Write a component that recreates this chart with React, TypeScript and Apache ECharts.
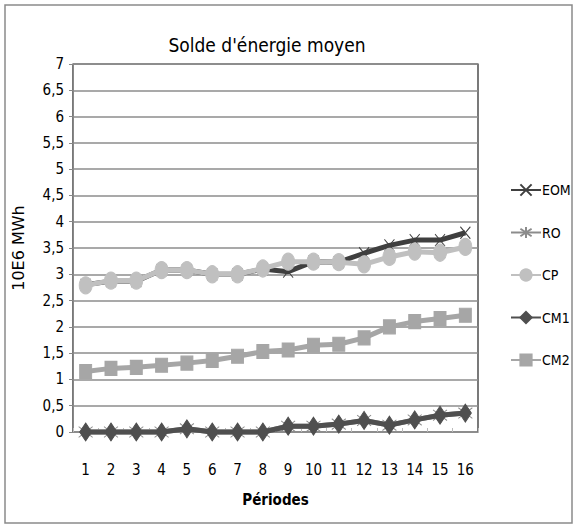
import React, { useEffect, useRef } from "react";
import * as echarts from "echarts";

const categories = ["1","2","3","4","5","6","7","8","9","10","11","12","13","14","15","16"];
const eom = [2.8, 2.87, 2.87, 3.08, 3.08, 3.0, 3.0, 3.1, 3.05, 3.24, 3.23, 3.4, 3.55, 3.65, 3.65, 3.79];
const ro = [0, 0, 0, 0, 0.06, 0, 0, 0, 0.11, 0.11, 0.15, 0.22, 0.13, 0.23, 0.32, 0.36];
const cp = [2.79, 2.88, 2.88, 3.08, 3.08, 3.0, 3.0, 3.11, 3.24, 3.24, 3.23, 3.19, 3.33, 3.43, 3.41, 3.52];
const cm1 = [0, 0, 0, 0, 0.06, 0, 0, 0, 0.11, 0.11, 0.15, 0.22, 0.13, 0.23, 0.32, 0.36];
const cm2 = [1.15, 1.21, 1.23, 1.27, 1.31, 1.36, 1.44, 1.53, 1.56, 1.65, 1.67, 1.79, 2.0, 2.1, 2.16, 2.22];

const FONT = "'Liberation Sans Narrow', 'DejaVu Sans Condensed', Roboto, sans-serif";
const X_PATH = "path://M0,0L10,12M10,0L0,12";
const STAR_PATH = "path://M5,0L5,12M0,2L10,10M10,2L0,10";

export default function App() {
  const ref = useRef<HTMLDivElement>(null);
  useEffect(() => {
    if (!ref.current) return;
    const chart = echarts.init(ref.current, null, { renderer: "svg" });
    const mk = (name: string, data: number[], color: string, symbol: string, size: any, extra: any = {}) => ({
      name,
      type: "line",
      data,
      clip: false,
      symbol,
      symbolSize: size,
      lineStyle: { color, width: 5 },
      itemStyle: { color, borderColor: color, borderWidth: 1 },
      ...extra,
    });
    chart.setOption({
      animation: false,
      backgroundColor: "#fff",
      title: {
        text: "Solde d'énergie moyen",
        left: 262,
        textAlign: "center",
        top: 30,
        textStyle: { fontFamily: FONT, fontSize: 19, fontWeight: "normal", color: "#000" },
      },
      graphic: [
        {
          type: "rect",
          shape: { x: 5, y: 5, width: 567, height: 518 },
          style: { fill: "none", stroke: "#8a8a8a", lineWidth: 1.5 },
          z: 100,
        },
      ],
      legend: {
        orient: "vertical",
        left: 505,
        top: 178,
        itemWidth: 30,
        itemHeight: 14,
        itemGap: 28.5,
        textStyle: { fontFamily: FONT, fontSize: 14, color: "#000", padding: [0, 0, 0, -4] },
        data: ["EOM", "RO", "CP", "CM1", "CM2"],
      },
      grid: {
        left: 73,
        right: 101,
        top: 64,
        bottom: 97,
        show: true,
        borderColor: "#222",
        borderWidth: 1.2,
      },
      xAxis: {
        type: "category",
        data: categories,
        boundaryGap: true,
        name: "Périodes",
        nameLocation: "middle",
        nameGap: 60,
        nameTextStyle: { fontFamily: FONT, fontSize: 15, fontWeight: "bold", color: "#000" },
        axisLine: { lineStyle: { color: "#505050", width: 5, shadowColor: "#a8a8a8", shadowOffsetX: 2, shadowOffsetY: 3 } },
        axisTick: { show: true, inside: true, length: 4, lineStyle: { color: "#bbb", width: 1 } },
        axisLabel: { margin: 30, fontFamily: FONT, fontSize: 15, color: "#000" },
        z: 1.5,
      },
      yAxis: {
        type: "value",
        min: 0,
        max: 7,
        interval: 0.5,
        name: "10E6 MWh",
        nameLocation: "middle",
        nameGap: 47,
        nameTextStyle: { fontFamily: "'DejaVu Sans', sans-serif", fontSize: 16, color: "#000" },
        axisLine: { show: true, lineStyle: { color: "#888", width: 1 } },
        axisTick: { show: true, length: 4, lineStyle: { color: "#888" } },
        axisLabel: {
          margin: 9,
          fontFamily: FONT,
          fontSize: 15,
          color: "#000",
          formatter: (v: number) => String(v).replace(".", ","),
        },
        splitLine: { lineStyle: { color: "#8c8c8c", width: 1.5 } },
      },
      series: [
        mk("RO", ro, "#8c8c8c", STAR_PATH, [14, 16], { z: 1 }),
        mk("CM2", cm2, "#a6a6a6", "rect", [12, 14]),
        mk("CM1", cm1, "#4f4f4f", "diamond", [12, 18]),
        mk("EOM", eom, "#3f3f3f", X_PATH, [10, 12]),
        mk("CP", cp, "#c0c0c0", "circle", [13, 17]),
      ],
    });
    return () => chart.dispose();
  }, []);
  return <div ref={ref} style={{ position: "fixed", left: 0, top: 0, width: 579, height: 529 }} />;
}
